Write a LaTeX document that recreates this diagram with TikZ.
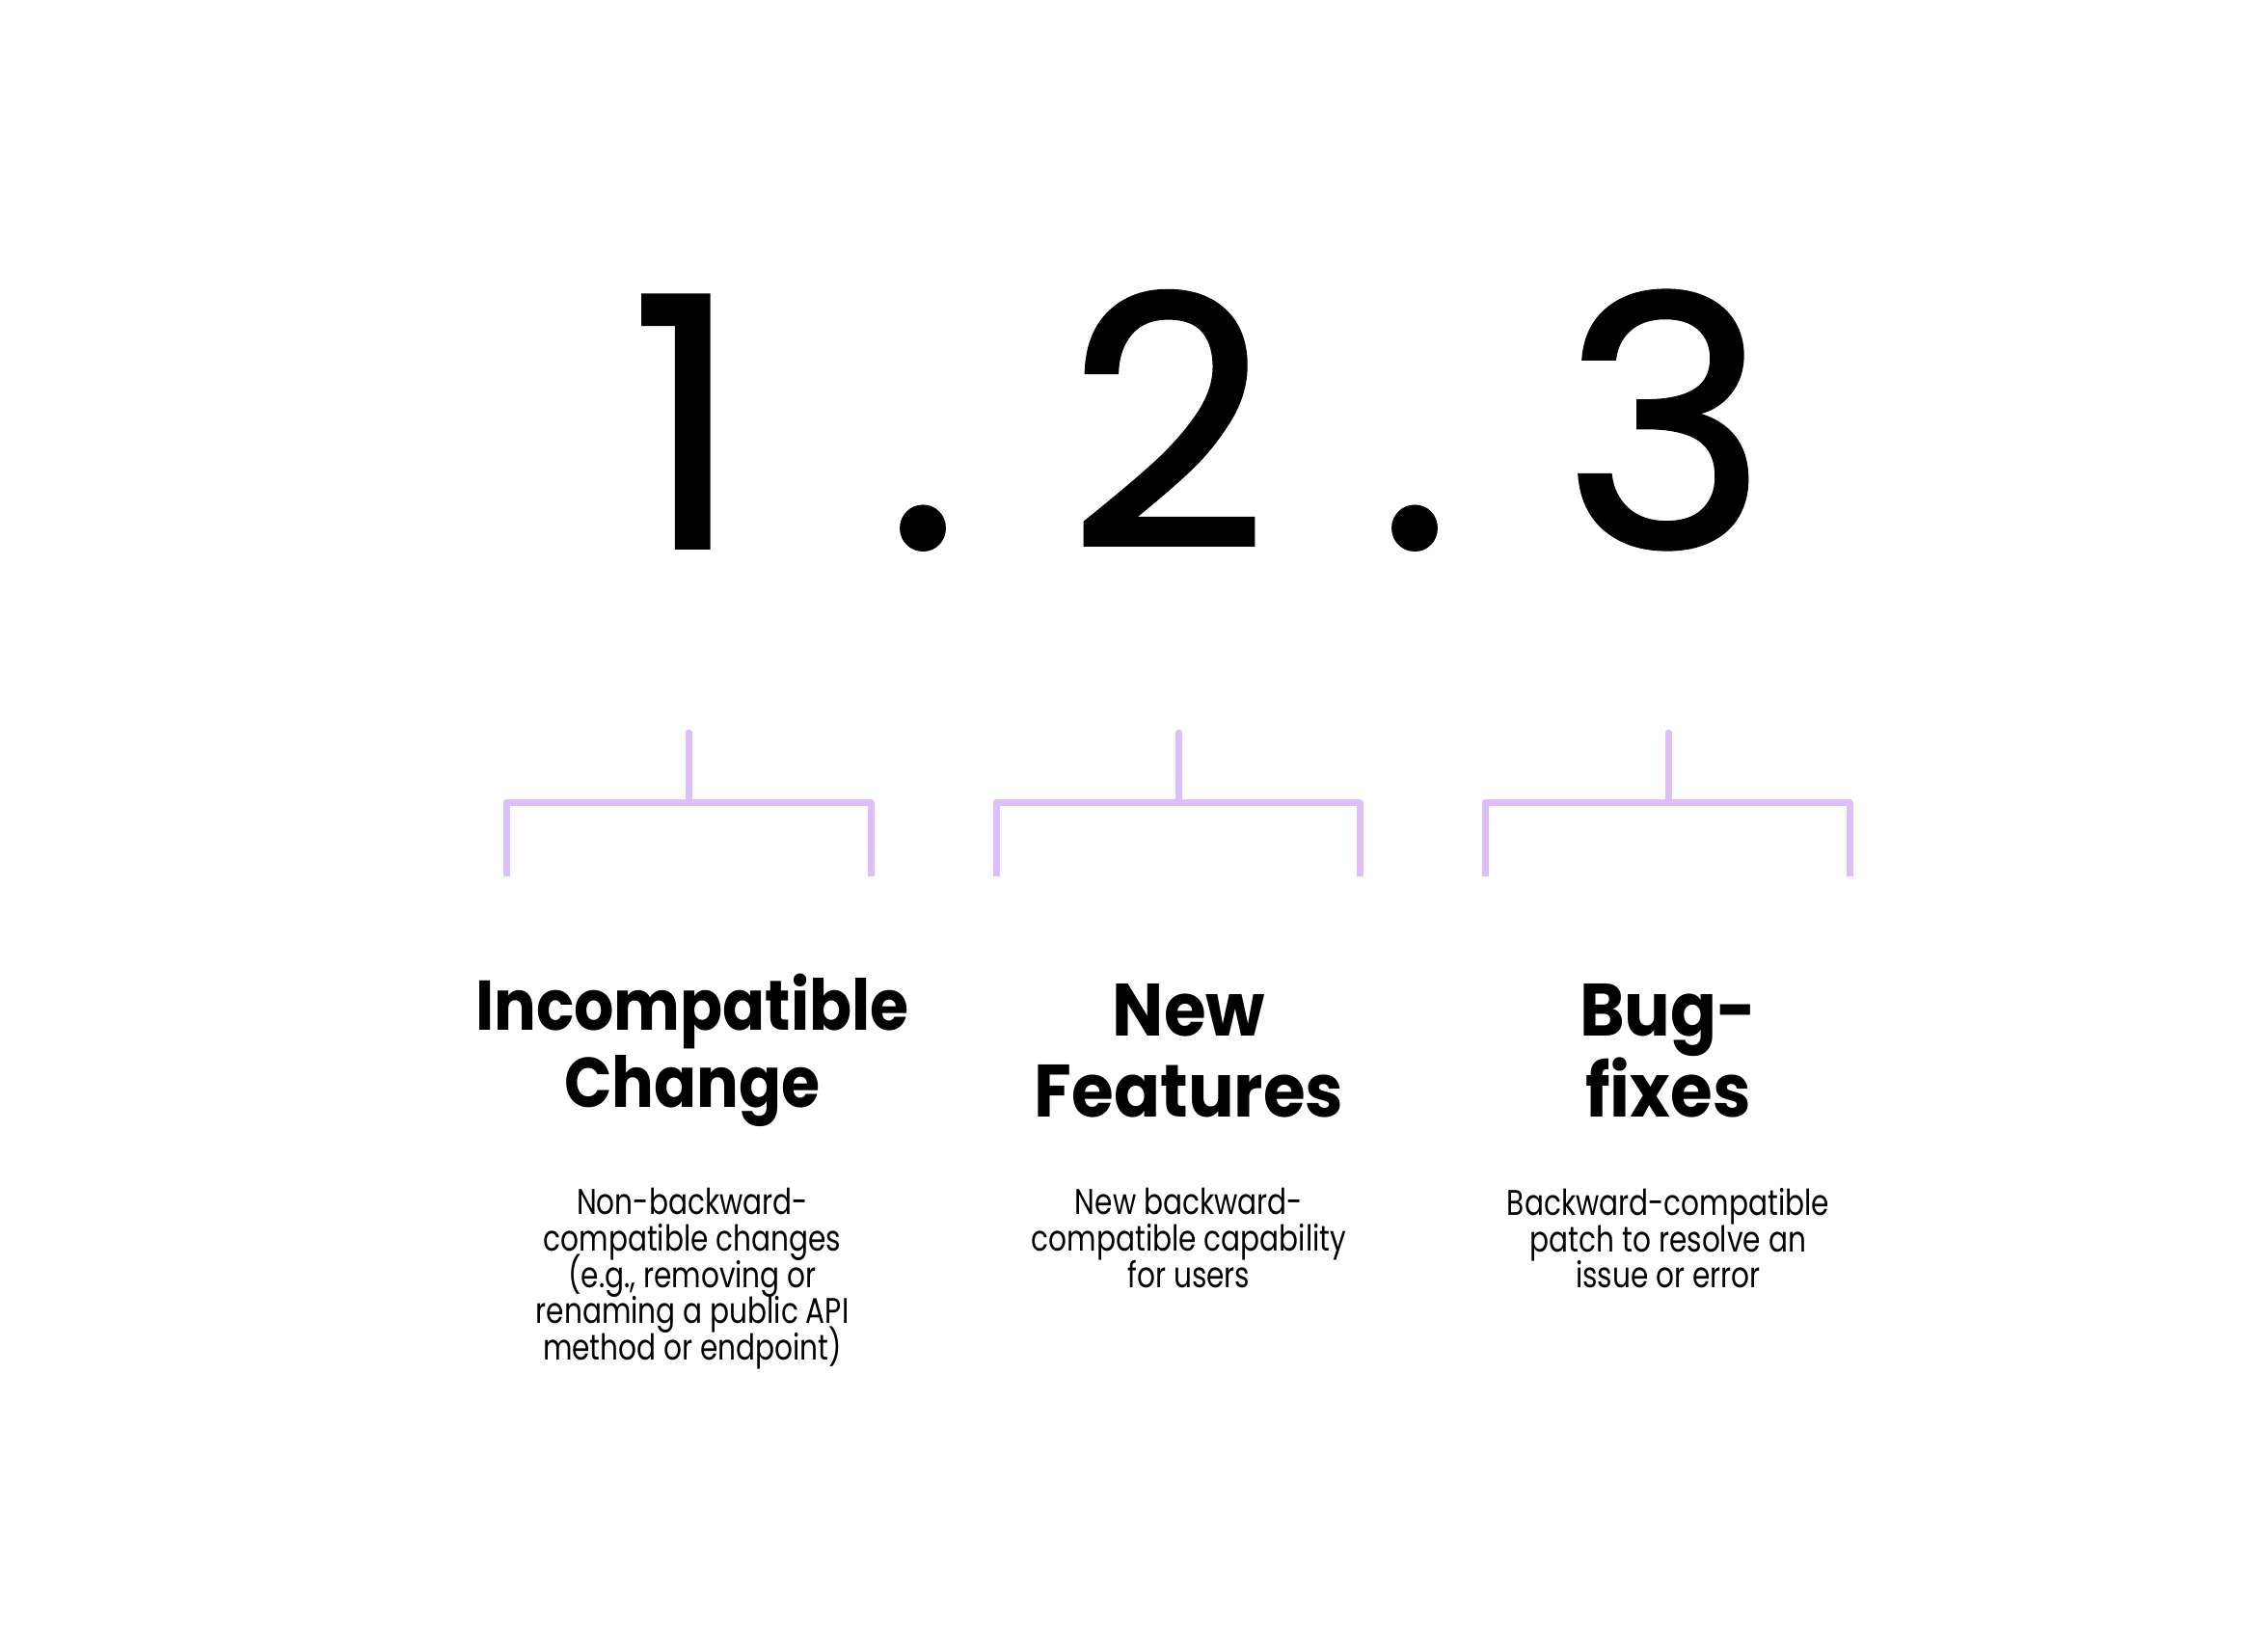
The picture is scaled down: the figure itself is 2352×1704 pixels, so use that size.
\documentclass[tikz,border=0pt]{standalone}
\usepackage{fontspec}
\setmainfont{Poppins}
\newfontfamily\digitfont{Poppins}[FakeBold=1]
\newfontfamily\titlefont{Poppins}[FakeStretch=0.89]
\newfontfamily\titlewidefont{Poppins}[FakeStretch=0.92]
\newfontfamily\bodyfont{Poppins}[FakeStretch=0.8]
\definecolor{lilac}{HTML}{DDBEF9}
\newcommand\tightlines{\lineskiplimit=-100pt\relax\lineskip=0pt\relax}

\begin{document}
\begin{tikzpicture}[x=1pt,y=-1pt,
  digit/.style={font=\digitfont\fontsize{362}{362}\selectfont, anchor=base, inner sep=0pt},
  title/.style={font=\titlefont\fontsize{73}{80}\selectfont\bfseries, anchor=base, inner sep=0pt},
  titlebig/.style={font=\titlewidefont\fontsize{77}{84}\selectfont\bfseries, anchor=base, inner sep=0pt},
  body/.style={font=\bodyfont\fontsize{37}{37.8}\selectfont\tightlines,
    align=center, anchor=north, inner sep=0pt},
  brace/.style={draw=lilac, line width=7pt, line cap=butt, line join=round},
  stem/.style={draw=lilac, line width=7pt, line cap=round}]

  % canvas
  \useasboundingbox (0,0) rectangle (2352,1704);

  % version number
  \node[digit] (major) at (711,568) {1};
  \node[digit] (dotA)  at (957,568) {.};
  \node[digit] (minor) at (1211,568) {2};
  \node[digit] (dotB)  at (1467,568) {.};
  \node[digit] (patch) at (1727,568) {3};

  % bracket anchor points
  \foreach \n/\c/\l/\r in {A/714/525/903, B/1222/1033/1410, C/1730/1540/1918}{
    \coordinate (top\n)  at (\c,760);
    \coordinate (mid\n)  at (\c,832);
    \coordinate (lt\n)   at (\l,832);
    \coordinate (rt\n)   at (\r,832);
    \coordinate (lb\n)   at (\l,909);
    \coordinate (rb\n)   at (\r,909);
  }
  \foreach \n in {A,B,C}{
    \draw[brace] (lb\n) -- (lt\n) -- (rt\n) -- (rb\n);
    \draw[stem] (top\n) -- (mid\n);
  }

  % headings
  \node[title] (incA) at (718,1068) {Incompatible};
  \node[title] (incB) at (718,1148) {Change};
  \node[titlebig] (newA) at (1233,1074) {New};
  \node[titlebig] (newB) at (1233,1158) {Features};
  \node[titlebig] (bugA) at (1730,1074) {Bug-};
  \node[titlebig] (bugB) at (1730,1158) {fixes};

  % descriptions
  \node[body] (descA) at (718,1232) {Non-backward-\\compatible changes\\(e.g., removing or\\renaming a public API\\method or endpoint)};
  \node[body] (descB) at (1233,1232) {New backward-\\compatible capability\\for users};
  \node[body] (descC) at (1730,1232) {Backward-compatible\\patch to resolve an\\issue or error};
\end{tikzpicture}
\end{document}
